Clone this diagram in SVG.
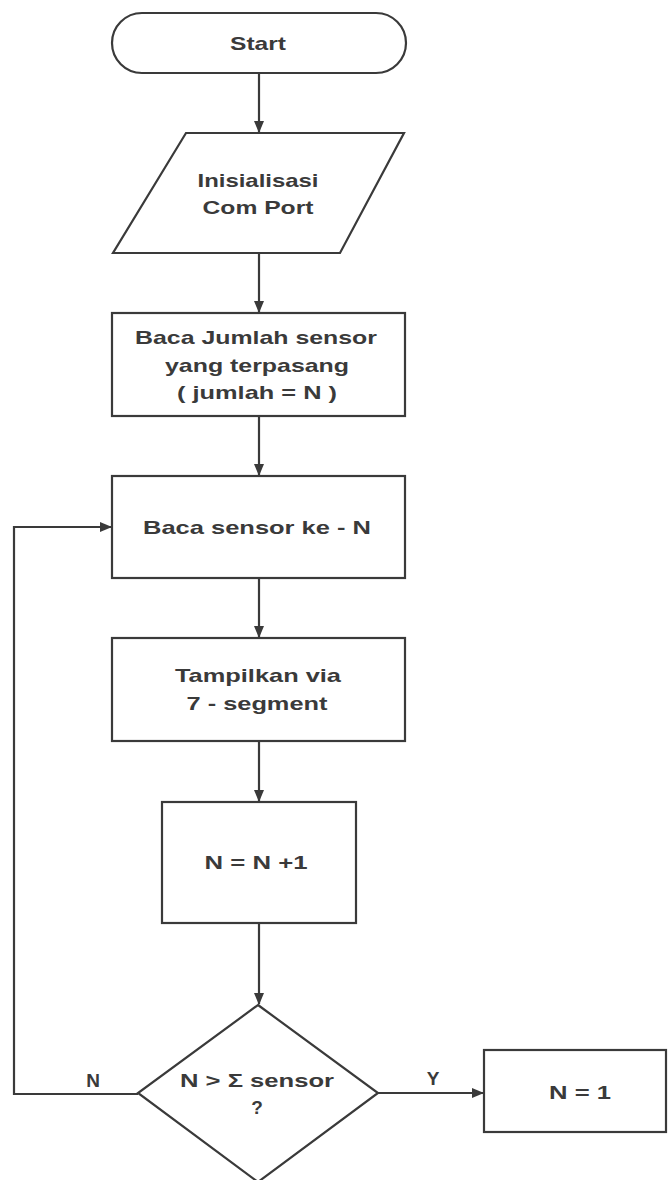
<svg xmlns="http://www.w3.org/2000/svg" width="671" height="1180" viewBox="0 0 671 1180">
<style>
.s{fill:#fff;stroke:#3a3a3a;stroke-width:2.2}
.t{font-family:"Liberation Sans",Arial,sans-serif;font-size:19px;font-weight:bold;fill:#3a3a3a;text-anchor:middle}
.c{fill:none;stroke:#3a3a3a;stroke-width:2.2}
</style>
<defs>
<marker id="a" markerWidth="12" markerHeight="10" refX="11" refY="5" orient="auto" markerUnits="userSpaceOnUse">
<path d="M0,0 L12,5 L0,10 Z" fill="#3a3a3a"/>
</marker>
</defs>
<rect width="671" height="1180" fill="#fff"/>
<g id="connectors">
<line class="c" x1="259" y1="73" x2="259" y2="132" marker-end="url(#a)"/>
<line class="c" x1="259" y1="253" x2="259" y2="312" marker-end="url(#a)"/>
<line class="c" x1="259" y1="416" x2="259" y2="475" marker-end="url(#a)"/>
<line class="c" x1="259" y1="578" x2="259" y2="637" marker-end="url(#a)"/>
<line class="c" x1="259" y1="741" x2="259" y2="801" marker-end="url(#a)"/>
<line class="c" x1="259" y1="923" x2="259" y2="1004" marker-end="url(#a)"/>
<line class="c" x1="378" y1="1093" x2="483" y2="1093" marker-end="url(#a)"/>
<polyline class="c" points="138,1094 14,1094 14,527 111,527" marker-end="url(#a)"/>
<text class="t" x="93" y="1087">N</text>
<text class="t" x="433" y="1085">Y</text>
</g>
<g id="start">
<rect class="s" x="112" y="13" width="294" height="60" rx="30" ry="30"/>
<text class="t" x="258" y="50" textLength="56" lengthAdjust="spacingAndGlyphs">Start</text>
</g>
<g id="init">
<polygon class="s" points="186,133 404,133 340,253 113,253"/>
<text class="t" x="258" y="187" textLength="121" lengthAdjust="spacingAndGlyphs">Inisialisasi</text>
<text class="t" x="258" y="214" textLength="111" lengthAdjust="spacingAndGlyphs">Com Port</text>
</g>
<g id="baca-jumlah">
<rect class="s" x="112" y="313" width="293" height="103"/>
<text class="t" x="256" y="344" textLength="242" lengthAdjust="spacingAndGlyphs">Baca Jumlah sensor</text>
<text class="t" x="257" y="372" textLength="184" lengthAdjust="spacingAndGlyphs">yang terpasang</text>
<text class="t" x="257" y="399" textLength="160" lengthAdjust="spacingAndGlyphs">( jumlah = N )</text>
</g>
<g id="baca-sensor">
<rect class="s" x="112" y="476" width="293" height="102"/>
<text class="t" x="257" y="534" textLength="228" lengthAdjust="spacingAndGlyphs">Baca sensor ke - N</text>
</g>
<g id="tampilkan">
<rect class="s" x="112" y="638" width="293" height="103"/>
<text class="t" x="258" y="682" textLength="166" lengthAdjust="spacingAndGlyphs">Tampilkan via</text>
<text class="t" x="257" y="710" textLength="141" lengthAdjust="spacingAndGlyphs">7 - segment</text>
</g>
<g id="increment">
<rect class="s" x="162" y="802" width="194" height="121"/>
<text class="t" x="256" y="869" textLength="103" lengthAdjust="spacingAndGlyphs">N = N +1</text>
</g>
<g id="decision">
<polygon class="s" points="258,1005 378,1093 258,1182 138,1093"/>
<text class="t" x="257" y="1087" textLength="154" lengthAdjust="spacingAndGlyphs">N &gt; Σ sensor</text>
<text class="t" x="257" y="1114">?</text>
</g>
<g id="reset">
<rect class="s" x="484" y="1050" width="182" height="82"/>
<text class="t" x="580" y="1099" textLength="62" lengthAdjust="spacingAndGlyphs">N = 1</text>
</g>
</svg>
